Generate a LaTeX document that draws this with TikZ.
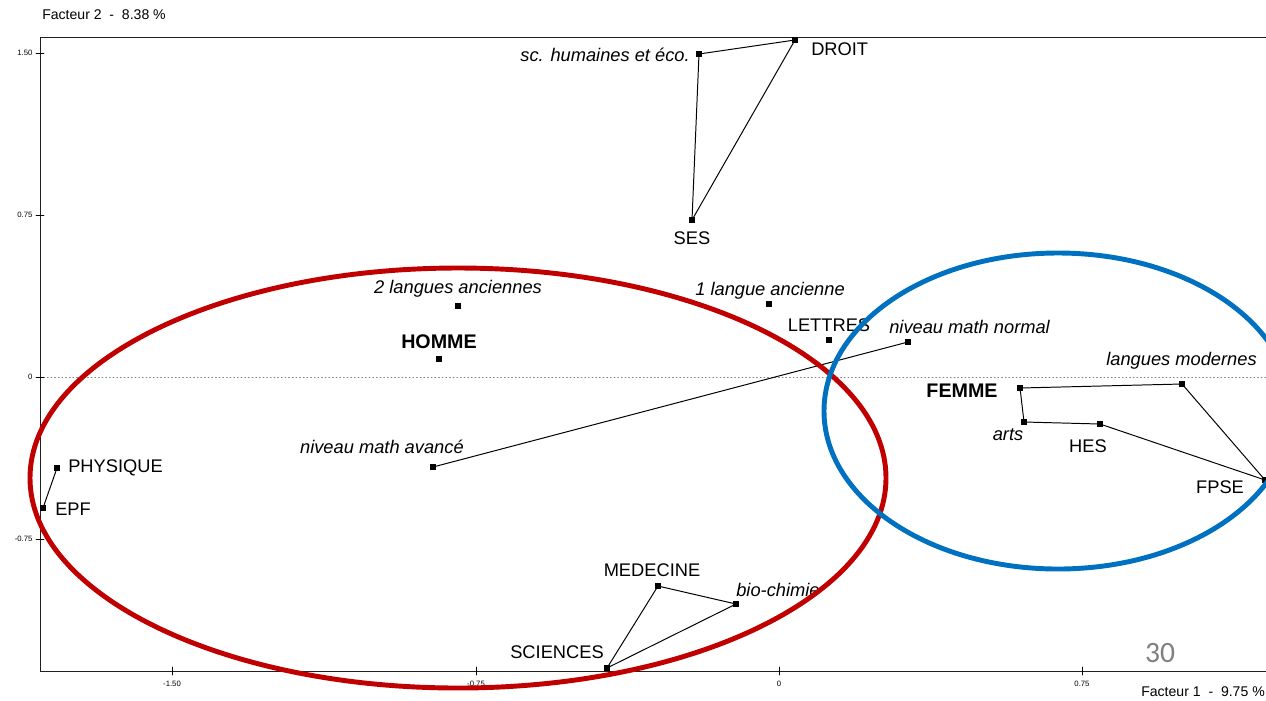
\documentclass[tikz,border=0pt]{standalone}
\usepackage{fontspec}
\setmainfont{Liberation Sans}
\newfontfamily\slidefont{Carlito}
\usepackage{xcolor}
\definecolor{ellred}{RGB}{192,0,0}
\definecolor{ellblue}{RGB}{0,112,192}

\begin{document}
\begin{tikzpicture}[x=0.025cm,y=-0.025cm,line cap=round,
  font=\fontsize{13}{15}\selectfont,
  modal/.style={fill=black,inner sep=0pt,minimum size=3.6pt},
  lab/.style={inner sep=0pt},
  itlab/.style={inner sep=0pt,font=\fontsize{13}{15}\selectfont\itshape},
  sexe/.style={inner sep=0pt,font=\fontsize{14}{16}\selectfont\bfseries},
  tick/.style={inner sep=0pt,font=\fontsize{5.5}{6}\selectfont},
  link/.style={black,line width=0.7pt}]
\useasboundingbox (0,0) rectangle (1266,700);
% axes
\draw[gray!25!black,line width=0.6pt] (1266,37) -- (40,37) -- (40,671) -- (1266,671);
\draw[gray,dotted,line width=0.6pt] (40,377) -- (1266,377);
\draw (36,53) -- (44,53) node[tick,left=8pt]{1.50};
\draw (36,215) -- (44,215) node[tick,left=8pt]{0.75};
\draw (36,377) -- (44,377) node[tick,left=8pt]{0};
\draw (36,539) -- (44,539) node[tick,left=8pt]{-0.75};
\draw (172,667) -- (172,675) node[tick,below=4pt]{-1.50};
\draw (476,667) -- (476,675) node[tick,below=4pt]{-0.75};
\draw (779,667) -- (779,675) node[tick,below=4pt]{0};
\draw (1082,667) -- (1082,675) node[tick,below=4pt]{0.75};
\node[lab,anchor=west,font=\fontsize{10}{12}\selectfont] (f2) at (42,15) {Facteur 2 ~-~ 8.38 \%};
\node[lab,anchor=west,font=\fontsize{10}{12}\selectfont] (f1) at (1141,692) {Facteur 1 ~-~ 9.75 \%};
% modalites
\node[modal] (sch) at (699,54) {};
\node[modal] (droit) at (795,40) {};
\node[modal] (ses) at (692,220) {};
\node[modal] (lang2) at (458,306) {};
\node[modal] (homme) at (439,359) {};
\node[modal] (lang1) at (769,304) {};
\node[modal] (lettres) at (829,340) {};
\node[modal] (mnorm) at (908,342) {};
\node[modal] (mavan) at (433,467) {};
\node[modal] (phys) at (57,468) {};
\node[modal] (epf) at (43,508) {};
\node[modal] (femme) at (1020,388) {};
\node[modal] (lmod) at (1182,384) {};
\node[modal] (fpse) at (1265,480) {};
\node[modal] (hes) at (1100,424) {};
\node[modal] (arts) at (1024,422) {};
\node[modal] (med) at (658,586) {};
\node[modal] (bio) at (736,604) {};
\node[modal] (sci) at (607,668) {};
% liaisons
\draw[link] (sch.center) -- (droit.center) -- (ses.center) -- (sch.center);
\draw[link] (mavan.center) -- (mnorm.center);
\draw[link] (phys.center) -- (epf.center);
\draw[link] (femme.center) -- (lmod.center) -- (fpse.center) -- (hes.center) -- (arts.center) -- (femme.center);
\draw[link] (med.center) -- (bio.center) -- (sci.center) -- (med.center);
% etiquettes
\node[itlab,anchor=east] (schL) at (690,55) {sc. humaines et éco.};
\node[lab,anchor=west] (droitL) at (811,49) {DROIT};
\node[lab] (sesL) at (692,238) {SES};
\node[itlab] (lang2L) at (458,289) {2 langues anciennes};
\node[sexe] (hommeL) at (439,342) {HOMME};
\node[itlab] (lang1L) at (770,291) {1 langue ancienne};
\node[lab] (lettresL) at (829,325) {LETTRES};
\node[itlab,anchor=west] (mnormL) at (889,327) {niveau math normal};
\node[itlab,anchor=east] (mavanL) at (464,447) {niveau math avancé};
\node[lab,anchor=west] (physL) at (68,468) {PHYSIQUE};
\node[lab,anchor=west] (epfL) at (55,509) {EPF};
\node[itlab,anchor=east] (lmodL) at (1257,361) {langues modernes};
\node[sexe] (femmeL) at (962,391) {FEMME};
\node[itlab] (artsL) at (1008,435) {arts};
\node[lab] (hesL) at (1088,446) {HES};
\node[lab] (fpseL) at (1220,487) {FPSE};
\node[lab] (medL) at (652,570) {MEDECINE};
\node[itlab,anchor=west] (bioL) at (736,590) {bio-chimie};
\node[lab] (sciL) at (557,652) {SCIENCES};
% groupes
\draw[ellred,line width=3.5pt] (458,478) ellipse [x radius=428,y radius=-210];
\draw[ellblue,line width=3.5pt] (1058,411) ellipse [x radius=234,y radius=-158];
\node[lab,text=gray,font=\slidefont\fontsize{21}{24}\selectfont] (num) at (1160,653) {30};
\end{tikzpicture}
\end{document}
